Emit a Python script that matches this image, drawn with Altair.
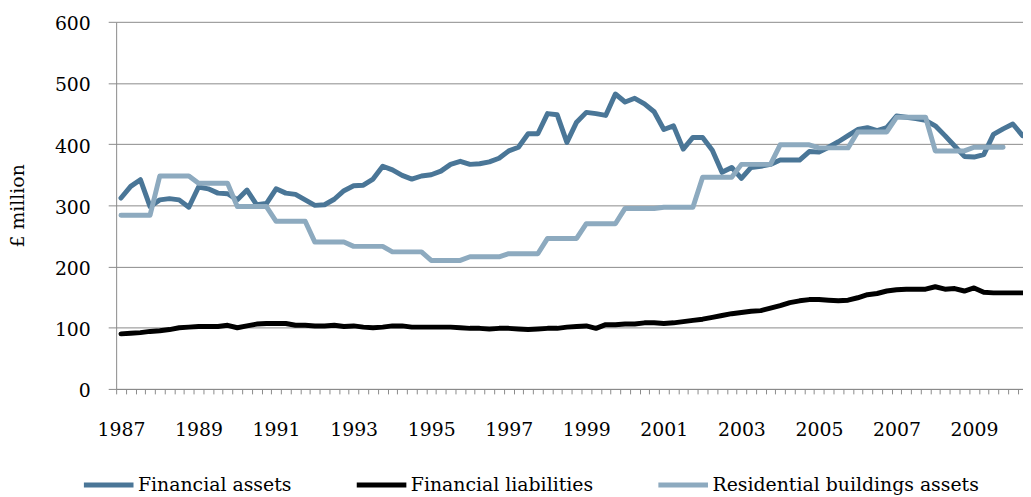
import altair as alt
import pandas as pd

# ---------------- data (quarterly, 1987 Q1 onward) ----------------
tick_years = [1987, 1989, 1991, 1993, 1995, 1997, 1999, 2001, 2003, 2005, 2007, 2009]

financial_assets = [
    312, 331, 342, 298, 309, 311, 309, 297, 330, 327,
    320, 319, 309, 325, 301, 303, 327, 320, 318, 309,
    300, 301, 310, 324, 332, 333, 343, 364, 358, 349,
    343, 348, 350, 356, 367, 372, 367, 368, 371, 377,
    389, 395, 417, 417, 450, 448, 403, 436, 452, 450,
    447, 482, 469, 475, 466, 453, 424, 430, 392, 411,
    411, 390, 354, 362, 344, 362, 364, 367, 374, 374,
    374, 388, 387, 395, 404, 414, 424, 427, 422, 427,
    446, 444, 442, 439, 430, 414, 397, 380, 379, 383,
    416, 425, 433, 414,
]

financial_liabilities = [
    90, 91, 92, 94, 95, 97, 100, 101, 102, 102,
    102, 104, 100, 103, 106, 107, 107, 107, 104, 104,
    103, 103, 104, 102, 103, 101, 100, 101, 103, 103,
    101, 101, 101, 101, 101, 100, 99, 99, 98, 99,
    99, 98, 97, 98, 99, 99, 101, 102, 103, 99,
    105, 105, 106, 106, 108, 108, 107, 108, 110, 112,
    114, 117, 120, 123, 125, 127, 128, 132, 136, 141,
    144, 146, 146, 145, 144, 145, 149, 154, 156, 160,
    162, 163, 163, 163, 167, 163, 164, 160, 165, 158,
    157, 157, 157, 157,
]

residential_assets = [
    284, 284, 284, 284, 348, 348, 348, 348, 336, 336, 336, 336,
    298, 298, 298, 298, 274, 274, 274, 274, 240, 240, 240, 240,
    233, 233, 233, 233, 224, 224, 224, 224, 210, 210, 210, 210,
    216, 216, 216, 216, 221, 221, 221, 221, 246, 246, 246, 246,
    270, 270, 270, 270, 295, 295, 295, 295, 297, 297, 297, 297,
    346, 346, 346, 346, 367, 367, 367, 367, 399, 399, 399, 399,
    394, 394, 394, 394, 420, 420, 420, 420, 444, 444, 444, 444,
    389, 389, 389, 389, 395, 395, 395, 395,
]

series_names = ["Financial assets", "Financial liabilities", "Residential buildings assets"]
series_values = [financial_assets, financial_liabilities, residential_assets]
colors = ["#4A7697", "#000000", "#8DAABF"]

rows = []
for name, vals in zip(series_names, series_values):
    for i, v in enumerate(vals):
        rows.append({"series": name, "q": i, "value": v})
df = pd.DataFrame(rows)

# ---------------- styling ----------------
FONT = "DejaVu Serif"
GRAY = "#8a8a8a"

boundaries = [i - 0.5 for i in range(0, 94)]
label_expr = ""
for k, yr in enumerate(tick_years):
    label_expr += f"datum.value == {8 * k - 0.5} ? '{yr}' : "
label_expr += "''"

x = alt.X(
    "q:Q",
    scale=alt.Scale(domain=[-0.5, 93.05], nice=False, zero=False),
    axis=alt.Axis(
        values=boundaries, labelExpr=label_expr, title=None, grid=False,
        tickSize=5, tickColor=GRAY, tickWidth=1, domainColor=GRAY, domainWidth=1,
        labelPadding=27, labelOffset=4.885, labelFlush=False, labelOverlap=False,
        labelFont=FONT, labelFontSize=19, labelColor="black",
    ),
)
y = alt.Y(
    "value:Q",
    scale=alt.Scale(domain=[0, 600], nice=False),
    axis=alt.Axis(
        values=list(range(0, 601, 100)), grid=True, gridColor=GRAY, gridWidth=1,
        tickSize=8, tickColor=GRAY, domainColor=GRAY,
        labelPadding=18, labelOffset=2, labelFont=FONT, labelFontSize=19, labelColor="black",
        title="£ million", titleFont=FONT, titleFontSize=19, titleFontWeight="normal",
        titleColor="black", titlePadding=27,
    ),
)
color = alt.Color(
    "series:N",
    scale=alt.Scale(domain=series_names, range=colors),
    legend=alt.Legend(
        orient="none", legendX=-35, legendY=439, direction="horizontal",
        symbolType="stroke", symbolSize=2500, symbolStrokeWidth=5,
        labelFont=FONT, labelFontSize=19, labelColor="black", labelOffset=2,
        labelLimit=0, columnPadding=55, padding=0, title=None,
    ),
)

layers = [
    alt.Chart(df)
    .transform_filter(alt.datum.series == name)
    .mark_line(strokeWidth=5, strokeJoin="round", strokeCap="round", clip=True)
    .encode(x=x, y=y, color=color)
    for name in series_names
]

chart = (
    alt.layer(*layers)
    .properties(
        width=914, height=370,
        autosize=alt.AutoSizeParams(type="none"),
        padding={"left": 109, "top": 12, "right": 0, "bottom": 107},
    )
    .configure_view(stroke=None)
)

chart.save("out.html", embed_options={"renderer": "svg", "actions": False})
